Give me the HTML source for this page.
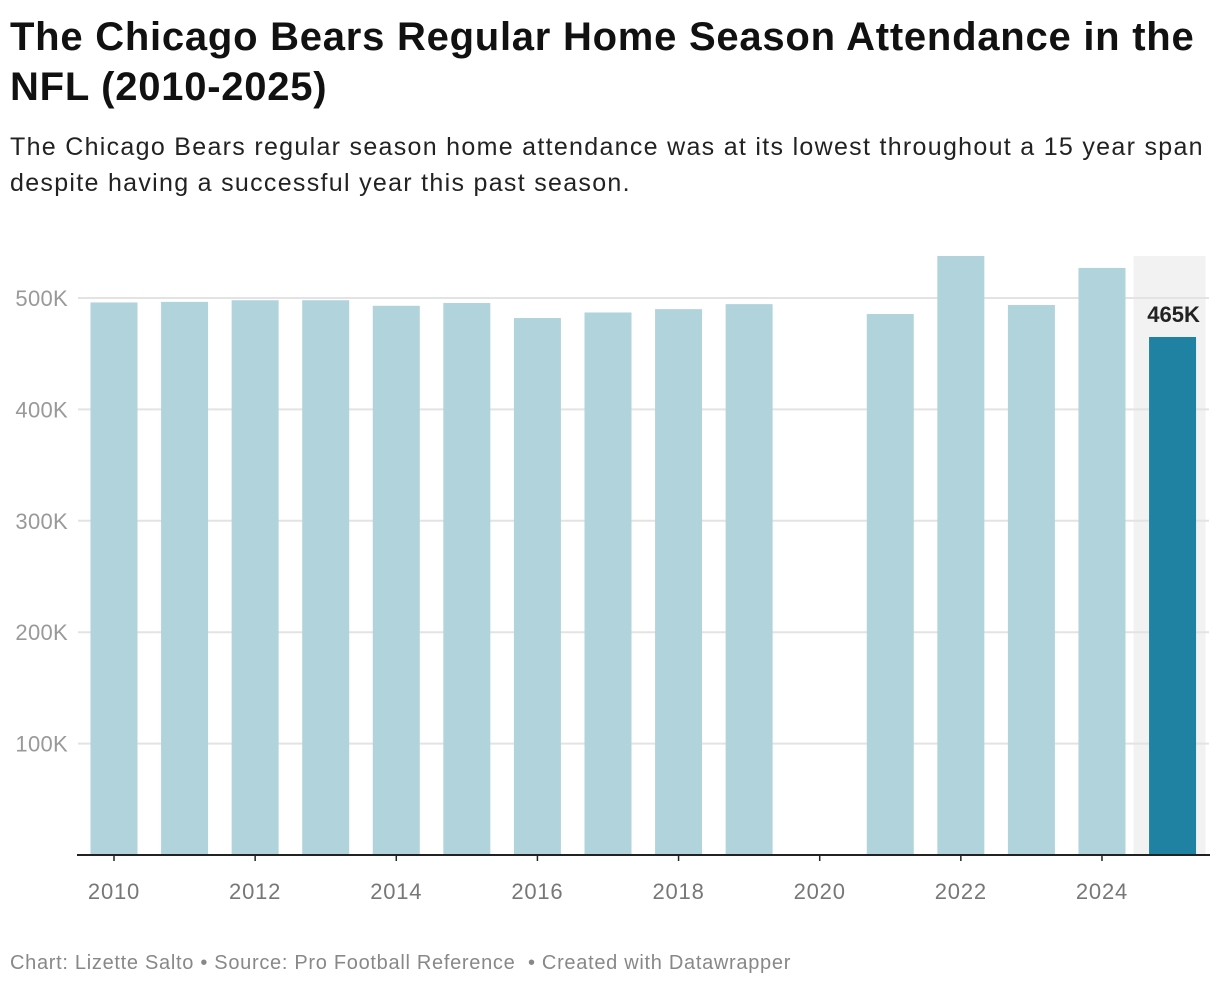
<!DOCTYPE html>
<html><head><meta charset="utf-8"><style>
body{margin:0;background:#fff;font-family:"Liberation Sans",sans-serif;width:1220px;height:988px;overflow:hidden;position:relative}
h1{position:absolute;left:10px;top:12px;margin:0;font-size:40px;letter-spacing:0.75px;line-height:50px;font-weight:bold;color:#111;width:1215px;white-space:nowrap}
.sub{position:absolute;left:10px;top:129px;font-size:25px;letter-spacing:1.3px;line-height:36px;color:#222;width:1215px;white-space:nowrap}
.foot{position:absolute;left:10px;top:952px;font-size:20px;letter-spacing:0.7px;color:#888}
</style></head><body>
<h1>The Chicago Bears Regular Home Season Attendance in the<br>NFL (2010-2025)</h1>
<div class="sub">The Chicago Bears regular season home attendance was at its lowest throughout a 15 year span<br>despite having a successful year this past season.</div>
<svg id="chart" width="1220" height="988" style="position:absolute;left:0;top:0"></svg>
<div class="foot">Chart: Lizette Salto • Source: Pro Football Reference &nbsp;• Created with Datawrapper</div>
<script>
const years=[2010,2011,2012,2013,2014,2015,2016,2017,2018,2019,2020,2021,2022,2023,2024,2025];
const attendance=[496000,496500,498000,498000,493000,495500,482000,487000,490000,494500,0,485600,537700,493700,527000,465000];
const yTicks=[100000,200000,300000,400000,500000];
const yTickLabels=["100K","200K","300K","400K","500K"];
const xTickYears=[2010,2012,2014,2016,2018,2020,2022,2024];
const highlightYear=2025;
const highlightLabel="465K";
const NS="http://www.w3.org/2000/svg";
const svg=document.getElementById('chart');
const y0=855,pxPer=111.4/100000;
const y=v=>y0-v*pxPer;
const x=yr=>114+(yr-2010)*70.57;
function mk(t,a){const e=document.createElementNS(NS,t);for(const k in a)e.setAttribute(k,a[k]);svg.appendChild(e);return e;}
let hb=mk('rect',{x:x(highlightYear)-39,y:256,width:72,height:y0-256,fill:'#f2f2f2'});


yTicks.forEach((t,i)=>{
 let g=mk('line',{x1:78,x2:1209,y1:y(t),y2:y(t),stroke:'#e3e3e3','stroke-width':2});
 
 
 let l=mk('text',{x:68,y:y(t)+8,'text-anchor':'end','font-size':22,'letter-spacing':0.3,fill:'#999','font-family':'Liberation Sans'});
 l.textContent=yTickLabels[i];
 
 
});
years.forEach((yr,i)=>{
 const v=attendance[i]; if(!v) return;
 let r=mk('rect',{x:x(yr)-23.5,y:y(v),width:47,height:y0-y(v),fill:yr===highlightYear?'#1f82a3':'#b1d3dc'});
 
 
});
let vl=mk('text',{x:x(highlightYear)+1,y:y(attendance[years.indexOf(highlightYear)])-15,'text-anchor':'middle','font-size':22,'font-weight':'bold',fill:'#222','font-family':'Liberation Sans'});
vl.textContent=highlightLabel;


let ax=mk('line',{x1:77,x2:1210,y1:y0,y2:y0,stroke:'#222','stroke-width':2});


xTickYears.forEach(yr=>{
 let t=mk('line',{x1:x(yr),x2:x(yr),y1:y0,y2:y0+6,stroke:'#222','stroke-width':1.5});
 
 
 let l=mk('text',{x:x(yr),y:899,'text-anchor':'middle','font-size':22,'letter-spacing':0.8,fill:'#777','font-family':'Liberation Sans'});
 l.textContent=yr;
 
 
});
</script>
</body></html>
